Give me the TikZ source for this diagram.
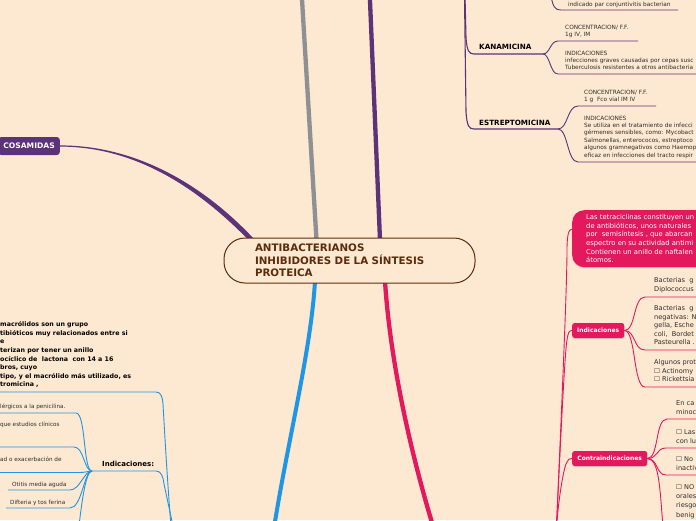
\documentclass[tikz,border=0pt]{standalone}
\usepackage{fontspec}
\setmainfont{DejaVu Sans}
\usetikzlibrary{shadows}
\definecolor{bgc}{RGB}{253,232,209}
\definecolor{brownc}{RGB}{92,45,12}
\definecolor{purpc}{RGB}{92,50,120}
\definecolor{grayc}{RGB}{142,144,148}
\definecolor{bluec}{RGB}{30,150,228}
\definecolor{pinkc}{RGB}{228,24,92}
\definecolor{txtc}{RGB}{45,45,45}
\newcommand{\myfs}[2]{\fontsize{#1}{#2}\selectfont}
\tikzset{
  leafA/.style={anchor=north west, inner sep=0pt, align=left, text=txtc, font=\myfs{5.8}{7.45}},
  leafB/.style={anchor=west, inner sep=0pt, text=txtc, font=\myfs{5.7}{7}},
  leafP/.style={anchor=north west, inner sep=0pt, align=left, text=txtc, font=\myfs{6.6}{8.5}},
  leafC/.style={anchor=north west, inner sep=0pt, align=left, text=txtc, font=\myfs{6.6}{9.1}},
  titleK/.style={anchor=west, inner sep=0pt, text=black, font=\bfseries\myfs{7.2}{9}},
  purpline/.style={draw=purpc, line width=0.9pt},
  blueline/.style={draw=bluec, line width=0.9pt},
  pinkline/.style={draw=pinkc, line width=0.9pt},
  pinkbox/.style={fill=pinkc, text=white, rounded corners=2.5pt, inner sep=0pt, font=\bfseries\myfs{6}{7}, drop shadow={opacity=0.25, shadow xshift=0.6pt, shadow yshift=-0.9pt}},
}
\begin{document}
\begin{tikzpicture}[x=1pt,y=-1pt]
\useasboundingbox (0,0) rectangle (696,520);
\fill[bgc] (0,0) rectangle (696,520);
\clip (0,0) rectangle (696,520);

% main trunks
\coordinate (gIn) at (316.5,240);
\coordinate (gOut) at (301.8,-4);
\coordinate (vIn) at (380,240);
\coordinate (vOut) at (369.8,-4);
\coordinate (bIn) at (315,281);
\coordinate (bOut) at (274.3,526);
\coordinate (rIn) at (385,281);
\coordinate (rOut) at (433,526);
\draw[grayc, line width=4.3pt] (gIn) -- (gOut);
\draw[purpc, line width=4.3pt] (vIn) -- (vOut);
\draw[bluec, line width=4pt] (bIn) .. controls (311,350) and (288,440) .. (bOut);
\draw[pinkc, line width=4.3pt] (rIn) .. controls (390,360) and (410,450) .. (rOut);

% left purple branch
\node[fill=purpc, text=white, rounded corners=3pt, anchor=east, inner xsep=5pt, inner ysep=0pt, minimum height=18pt, font=\bfseries\myfs{7.6}{9}] (cosa) at (60,146) {COSAMIDAS};
\fill[purpc] (60,145.4) .. controls (140,145.4) and (207,188.6) .. (254,239) -- (250.5,242) .. controls (203,193) and (140,146.6) .. (60,146.6) -- cycle;

% root
\node[draw=brownc, line width=1pt, fill=bgc, rounded corners=21pt, minimum width=251pt, minimum height=45pt, inner xsep=0pt, text width=189pt, align=left, text=brownc, font=\bfseries\myfs{10.3}{12.6}] (root) at (349.5,260.5) {ANTIBACTERIANOS\\INHIBIDORES DE LA SÍNTESIS\\PROTEICA};

% purple right subtree
\coordinate (pTop1) at (465,-4);
\coordinate (pTop2) at (464.5,-4);
\coordinate (pTop3) at (551,-4);
\node[titleK] (kana) at (479,47) {KANAMICINA};
\node[titleK] (estr) at (479,123) {ESTREPTOMICINA};
\coordinate (kL) at (474,54); \coordinate (kR) at (543,54);
\coordinate (eL) at (474,129); \coordinate (eR) at (558,129);
\draw[purpline, line width=1.1pt] (pTop1) -- (466,38) .. controls (467,51) and (469,54) .. (kL) -- (kR);
\draw[purpline, line width=1.1pt] (pTop2) -- (466,112) .. controls (467,126) and (469,129) .. (eL) -- (eR);

\node[leafA] (top1) at (568,1.5) {indicado par conjuntivitis bacterian};
\draw[purpline] (pTop3) .. controls (553,7) and (555,10) .. (561,10) -- (678,10);

\node[leafA] (k1) at (565,24.5) {CONCENTRACION/ F.F.\\1g IV, IM};
\node[leafA] (k2) at (565,50.5) {INDICACIONES\\infecciones graves causadas por cepas susc\\Tuberculosis resistentes a otros antibacteria};
\draw[purpline] (kR) .. controls (550,54) and (550,41) .. (558,41) -- (638,41);
\draw[purpline] (kR) .. controls (550,54) and (550,74) .. (558,74) -- (700,74);

\node[leafA] (e1) at (584,89.5) {CONCENTRACION/ F.F.\\1 g\ \ Fco vial IM IV};
\node[leafA] (e2) at (584,115.5) {INDICACIONES\\Se utiliza en el tratamiento de infecci\\gérmenes sensibles, como: Mycobact\\Salmonellas, enterococos, estreptoco\\algunos gramnegativos como Haemop\\eficaz en infecciones del tracto respir};
\draw[purpline] (eR) .. controls (568,129) and (567,106) .. (578,106) -- (656,106);
\draw[purpline] (eR) .. controls (568,129) and (567,162) .. (578,162) -- (700,162);

% blue subtree
\node[anchor=north west, inner sep=0pt, align=left, text=black, font=\bfseries\myfs{6.3}{8.6}] (macro) at (0,321.5) {macrólidos son un grupo\\tibióticos muy relacionados entre si\\e\\terizan por tener un anillo\\ocíclico de\ \ lactona\ \ con 14 a 16\\bros, cuyo\\tipo, y el macrólido más utilizado, es\\tromicina ,};
\coordinate (mL) at (-3,392); \coordinate (mR) at (156,392);
\coordinate (bb1) at (171,526); \coordinate (bb2) at (173,526);
\draw[blueline] (mL) -- (mR) .. controls (161,392) and (162.5,397) .. (163,404) .. controls (165,440) and (168,490) .. (bb1);
\node[anchor=west, inner sep=0pt, text=black, font=\bfseries\myfs{7}{8}] (ind) at (102,464) {Indicaciones:};
\coordinate (hub) at (92,471);
\coordinate (iR) at (156,471);
\draw[blueline] (hub) -- (iR) .. controls (161,471) and (163,476) .. (164,484) -- (bb2);

\node[leafB] (b1) at (0,407) {lérgicos a la penicilina.};
\node[leafB] (b2) at (0,425) {que estudios clínicos};
\node[leafB] (b3) at (0,459) {ad o exacerbación de};
\node[leafB] (b4) at (12,485) {Otitis media aguda};
\node[leafB] (b5) at (10,503) {Difteria y tos ferina};
\coordinate (l1) at (-3,413); \coordinate (l2) at (-3,447); \coordinate (l3) at (-3,472.5);
\coordinate (l4) at (8,490); \coordinate (l5) at (6,508); \coordinate (l6) at (79,526);
\draw[blueline] (l1) -- (76,413) .. controls (86,413) and (83,471) .. (hub);
\draw[blueline] (l2) -- (74,447) .. controls (84,447) and (84,471) .. (hub);
\draw[blueline] (l3) -- (80,472.5) .. controls (86,472.5) and (88,471) .. (hub);
\draw[blueline] (l4) -- (70,490) .. controls (80,490) and (84,471) .. (hub);
\draw[blueline] (l5) -- (70,508) .. controls (82,508) and (84,471) .. (hub);
\draw[blueline] (hub) .. controls (86,471) and (82,500) .. (l6);

% pink subtree
\node[pinkbox, anchor=north west, rounded corners=12pt, inner xsep=14pt, inner ysep=0pt, minimum height=57pt, align=left, font=\myfs{6.8}{8.6}] (tetra) at (572,210) {Las tetraciclinas constituyen un\\de antibióticos, unos naturales\\por\ \ semisíntesis , que abarcan\\espectro en su actividad antimi\\Contienen un anillo de naftalen\\átomos.};
\node[pinkbox, anchor=west, minimum width=52pt, minimum height=15pt] (pind) at (572,330.5) {Indicaciones};
\node[pinkbox, anchor=west, minimum width=75pt, minimum height=15pt] (pcon) at (572,458.5) {Contraindicaciones};

\coordinate (pk1) at (556.5,526);
\draw[pinkline] (pk1) .. controls (562,400) and (567,285) .. (567,250) .. controls (567,234) and (569,229) .. ([yshift=9.5pt]tetra.west);
\draw[pinkline] (pk1) .. controls (561,430) and (565,350) .. (567,340) .. controls (568,333) and (569,330.5) .. (pind.west);
\draw[pinkline] (pk1) .. controls (559,495) and (564,466) .. (567,462) .. controls (568,459.5) and (569,458.5) .. (pcon.west);

\draw[pinkline] (pind.east) .. controls (636,330.5) and (633,297) .. (645,297) -- (700,297);
\draw[pinkline] (pind.east) .. controls (636,330.5) and (633,350) .. (645,350) -- (700,350);
\draw[pinkline] (pind.east) .. controls (636,330.5) and (633,387) .. (645,387) -- (700,387);

\draw[pinkline] (pcon.east) .. controls (659,458.5) and (655,419) .. (667,419) -- (700,419);
\draw[pinkline] (pcon.east) .. controls (658,458.5) and (656,448) .. (666,448) -- (700,448);
\draw[pinkline] (pcon.east) .. controls (658,458.5) and (656,475) .. (666,475) -- (700,475);
\draw[pinkline] (pcon.east) .. controls (660,458.5) and (660,495) .. (663,526);

\node[leafP] (pi1) at (654,277.3) {Bacterias\ \ g\\Diplococcus};
\node[leafP] (pi2) at (654,305.6) {Bacterias\ \ g\\negativas: N\\gella, Esche\\coli,\ \ Bordet\\Pasteurella .};
\node[leafP] (pi3) at (654,359.6) {Algunos prot\\☐ Actinomy\\☐ Rickettsia};

\node[leafC] (pc1) at (676,400.6) {En ca\\minoc};
\node[leafC] (pc2) at (676,429) {☐ Las\\con lu};
\node[leafC] (pc3) at (676,456.6) {☐ No\\inactiv};
\node[leafC] (pc4) at (676,484.6) {☐ NO\\orales\\riesgo\\benig};
\end{tikzpicture}
\end{document}
